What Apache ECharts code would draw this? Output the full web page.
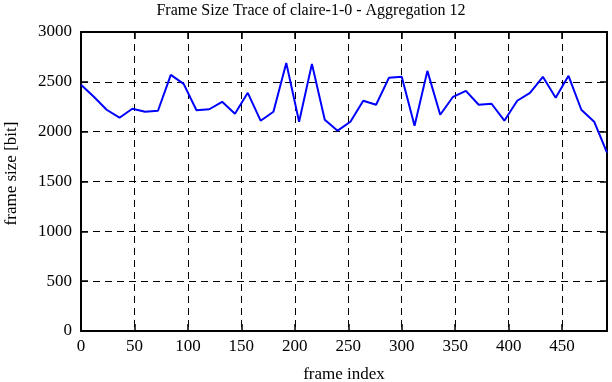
<!DOCTYPE html>
<html>
<head>
<meta charset="utf-8">
<script src="https://cdn.jsdelivr.net/npm/echarts@6/dist/echarts.min.js"></script>
<style>
  html, body { margin: 0; padding: 0; background: #fff; }
  #chart { width: 612px; height: 382px; }
</style>
</head>
<body>
<div id="chart"></div>
<script>
// aggregation step of 12 frames
const frameIndex = [
  0, 12, 24, 36, 48, 60, 72, 84, 96, 108, 120, 132, 144, 156,
  168, 180, 192, 204, 216, 228, 240, 252, 264, 276, 288, 300,
  312, 324, 336, 348, 360, 372, 384, 396, 408, 420, 432, 444,
  456, 468, 480, 492
];
const frameSize = [
  2470, 2350, 2220, 2140, 2230, 2200, 2210, 2570, 2480, 2215, 2225, 2300, 2180, 2390,
  2110, 2200, 2690, 2100, 2680, 2120, 2010, 2100, 2310, 2270, 2540, 2550,
  2060, 2610, 2170, 2350, 2410, 2270, 2280, 2110, 2310, 2390, 2550, 2340,
  2560, 2220, 2100, 1790
];

const font = "Liberation Serif";
const dashed = { show: true, lineStyle: { color: "#000", type: [7, 5], width: 1 } };
const frameLine = { show: true, onZero: false, lineStyle: { color: "#000", width: 2 } };
const tickIn = { show: true, inside: true, length: 7, lineStyle: { color: "#000", width: 1.5 } };

const chart = echarts.init(document.getElementById("chart"), null, { renderer: "canvas" });
chart.setOption({
  animation: false,
  backgroundColor: "#fff",
  title: {
    text: "Frame Size Trace of claire-1-0 - Aggregation 12",
    left: 306,
    textAlign: "center",
    top: -2,
    textStyle: { fontFamily: font, fontSize: 16, fontWeight: "normal", color: "#000" },
  },
  grid: { left: 81, right: 5, top: 32, bottom: 51, outerBoundsMode: "none", containLabel: false },
  xAxis: [
    {
      type: "value",
      min: 0,
      max: 492,
      interval: 50,
      name: "frame index",
      nameLocation: "middle",
      nameGap: 35,
      nameTextStyle: { fontFamily: font, fontSize: 17, color: "#000" },
      axisLine: frameLine,
      axisTick: tickIn,
      splitLine: dashed,
      axisLabel: {
        fontFamily: font,
        fontSize: 17,
        color: "#000",
        margin: 7,
        showMaxLabel: false,
        formatter: (v) => (v % 50 === 0 ? String(v) : ""),
      },
    },
    {
      type: "value",
      position: "top",
      min: 0,
      max: 492,
      interval: 50,
      axisLine: frameLine,
      axisTick: tickIn,
      axisLabel: { show: false },
      splitLine: { show: false },
    },
  ],
  yAxis: [
    {
      type: "value",
      min: 0,
      max: 3000,
      interval: 500,
      name: "frame size [bit]",
      nameLocation: "middle",
      nameGap: 61,
      nameRotate: 90,
      nameTextStyle: { fontFamily: font, fontSize: 17, color: "#000", padding: [0, 0, 0, 16] },
      axisLine: frameLine,
      axisTick: tickIn,
      splitLine: dashed,
      axisLabel: { fontFamily: font, fontSize: 17, color: "#000", margin: 9, formatter: (v) => String(v) },
    },
    {
      type: "value",
      position: "right",
      min: 0,
      max: 3000,
      interval: 500,
      axisLine: frameLine,
      axisTick: tickIn,
      axisLabel: { show: false },
      splitLine: { show: false },
    },
  ],
  series: [
    {
      type: "line",
      data: frameIndex.map((x, i) => [x, frameSize[i]]),
      showSymbol: false,
      clip: true,
      lineStyle: { color: "#0000ff", width: 2 },
    },
  ],
});
</script>
</body>
</html>
